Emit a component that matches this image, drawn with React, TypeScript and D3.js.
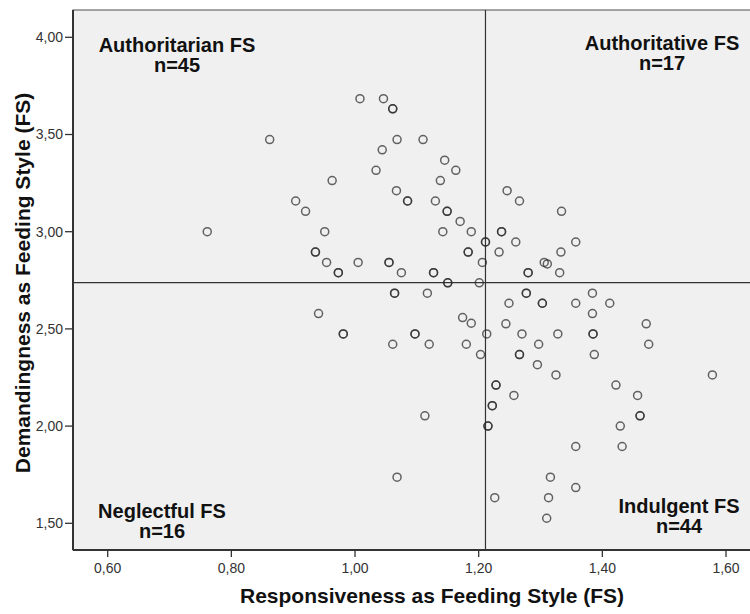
import * as d3 from 'd3';

// ── Data: one entry per respondent (overlapping respondents repeated) ────────
const responsiveness = [
  1.008, 1.046, 1.061, 1.061, 0.862, 1.068, 1.110, 1.044, 1.145, 1.163,
  1.034, 0.963, 1.138, 1.067, 1.085, 1.085, 1.130, 0.904, 0.920, 1.149,
  1.149, 1.170, 0.761, 0.951, 1.142, 1.188, 0.936, 0.936, 0.954, 1.005,
  1.055, 1.055, 1.075, 0.973, 0.973, 1.127, 1.127, 1.183, 1.183, 1.150,
  1.150, 1.064, 1.064, 1.117, 1.246, 1.266, 1.334, 1.237, 1.237, 1.211,
  1.211, 1.260, 1.357, 1.233, 1.333, 1.206, 1.306, 1.311, 1.280, 1.280,
  1.331, 1.201, 1.277, 1.277, 1.384, 0.941, 0.981, 0.981, 1.061, 1.097,
  1.097, 1.120, 1.174, 1.188, 1.180, 1.203, 1.113, 1.068, 1.249, 1.303,
  1.303, 1.357, 1.412, 1.384, 1.244, 1.471, 1.213, 1.270, 1.328, 1.385,
  1.385, 1.297, 1.475, 1.266, 1.266, 1.387, 1.295, 1.325, 1.578, 1.228,
  1.228, 1.422, 1.257, 1.457, 1.222, 1.222, 1.461, 1.461, 1.215, 1.215,
  1.429, 1.357, 1.432, 1.316, 1.357, 1.226, 1.313, 1.310,
];

const demandingness = [
  3.684, 3.684, 3.632, 3.632, 3.474, 3.474, 3.474, 3.421, 3.368, 3.316,
  3.316, 3.263, 3.263, 3.211, 3.158, 3.158, 3.158, 3.158, 3.105, 3.105,
  3.105, 3.053, 3.000, 3.000, 3.000, 3.000, 2.895, 2.895, 2.842, 2.842,
  2.842, 2.842, 2.789, 2.789, 2.789, 2.789, 2.789, 2.895, 2.895, 2.737,
  2.737, 2.684, 2.684, 2.684, 3.211, 3.158, 3.105, 3.000, 3.000, 2.947,
  2.947, 2.947, 2.947, 2.895, 2.895, 2.842, 2.842, 2.834, 2.789, 2.789,
  2.789, 2.737, 2.684, 2.684, 2.684, 2.579, 2.474, 2.474, 2.421, 2.474,
  2.474, 2.421, 2.558, 2.529, 2.421, 2.368, 2.053, 1.737, 2.632, 2.632,
  2.632, 2.632, 2.632, 2.579, 2.526, 2.526, 2.474, 2.474, 2.474, 2.474,
  2.474, 2.421, 2.421, 2.368, 2.368, 2.368, 2.316, 2.263, 2.263, 2.211,
  2.211, 2.211, 2.158, 2.158, 2.105, 2.105, 2.053, 2.053, 2.000, 2.000,
  2.000, 1.895, 1.895, 1.737, 1.684, 1.632, 1.632, 1.526,
];

const xTicks = [0.6, 0.8, 1.0, 1.2, 1.4, 1.6];
const yTicks = [1.5, 2.0, 2.5, 3.0, 3.5, 4.0];

// sample means used to split the four feeding-style quadrants
const RESP_MEAN = 1.211;
const DEMAND_MEAN = 2.738;

const quadrants = [
  { name: 'Authoritarian FS', n: 45, dx: 177, dy: 52 },
  { name: 'Authoritative FS', n: 17, dx: 662, dy: 50 },
  { name: 'Neglectful FS', n: 16, dx: 162, dy: 518 },
  { name: 'Indulgent FS', n: 44, dx: 679, dy: 513 },
];

const fmt = (v: number) => v.toFixed(2).replace('.', ',');

export default function App() {
  const W = 750, H = 614;
  const plot = { left: 73, top: 10, right: 754, bottom: 550 };

  const x = d3.scaleLinear().domain([0.6, 1.6]).range([107.7, 726]);
  const y = d3.scaleLinear().domain([1.5, 4.0]).range([523.3, 37.3]);

  const font = '"Liberation Sans", Arial, sans-serif';

  return (
    <svg width={W} height={H} style={{ position: 'absolute', left: 0, top: 0, background: '#fff' }}>
      {/* plot background */}
      <rect x={plot.left} y={plot.top} width={plot.right - plot.left} height={plot.bottom - plot.top}
        fill="#f0f0f0" stroke="#6a6a6a" strokeWidth={1.2} />

      {/* mean reference lines */}
      <line x1={x(RESP_MEAN)} x2={x(RESP_MEAN)} y1={plot.top} y2={plot.bottom} stroke="#333" strokeWidth={1.2} />
      <line x1={plot.left} x2={plot.right} y1={y(DEMAND_MEAN)} y2={y(DEMAND_MEAN)} stroke="#333" strokeWidth={1.2} />

      {/* points */}
      <g fill="none" stroke="#2a2a2a" strokeOpacity={0.72} strokeWidth={1.5}>
        {responsiveness.map((r, i) => (
          <circle key={i} cx={x(r)} cy={y(demandingness[i])} r={4} />
        ))}
      </g>

      {/* axes */}
      <line x1={plot.left} x2={plot.left} y1={plot.top} y2={plot.bottom} stroke="#333" strokeWidth={2} />
      <line x1={plot.left} x2={plot.right} y1={plot.bottom} y2={plot.bottom} stroke="#333" strokeWidth={2} />

      <g fontFamily={font} fontSize={14} fill="#333">
        {yTicks.map(t => (
          <g key={t}>
            <line x1={plot.left - 8} x2={plot.left} y1={y(t)} y2={y(t)} stroke="#333" strokeWidth={1.3} />
            <text x={plot.left - 10} y={y(t)} dy="0.35em" textAnchor="end">{fmt(t)}</text>
          </g>
        ))}
        {xTicks.map(t => (
          <g key={t}>
            <line x1={x(t)} x2={x(t)} y1={plot.bottom} y2={plot.bottom + 7} stroke="#333" strokeWidth={1.3} />
            <text x={x(t)} y={plot.bottom + 23} textAnchor="middle">{fmt(t)}</text>
          </g>
        ))}
      </g>

      {/* axis titles */}
      <text x={432} y={603} textAnchor="middle" fontFamily={font} fontWeight="bold" fontSize={21} fill="#111">
        Responsiveness as Feeding Style (FS)
      </text>
      <text transform={`translate(30,${(plot.top + plot.bottom) / 2 + 3}) rotate(-90)`} textAnchor="middle"
        fontFamily={font} fontWeight="bold" fontSize={21} fill="#111">
        Demandingness as Feeding Style (FS)
      </text>

      {/* quadrant labels */}
      <g fontFamily={font} fontWeight="bold" fontSize={20} fill="#111" textAnchor="middle">
        {quadrants.map(q => (
          <text key={q.name} x={q.dx} y={q.dy}>
            <tspan x={q.dx}>{q.name}</tspan>
            <tspan x={q.dx} dy={20}>n={q.n}</tspan>
          </text>
        ))}
      </g>
    </svg>
  );
}
